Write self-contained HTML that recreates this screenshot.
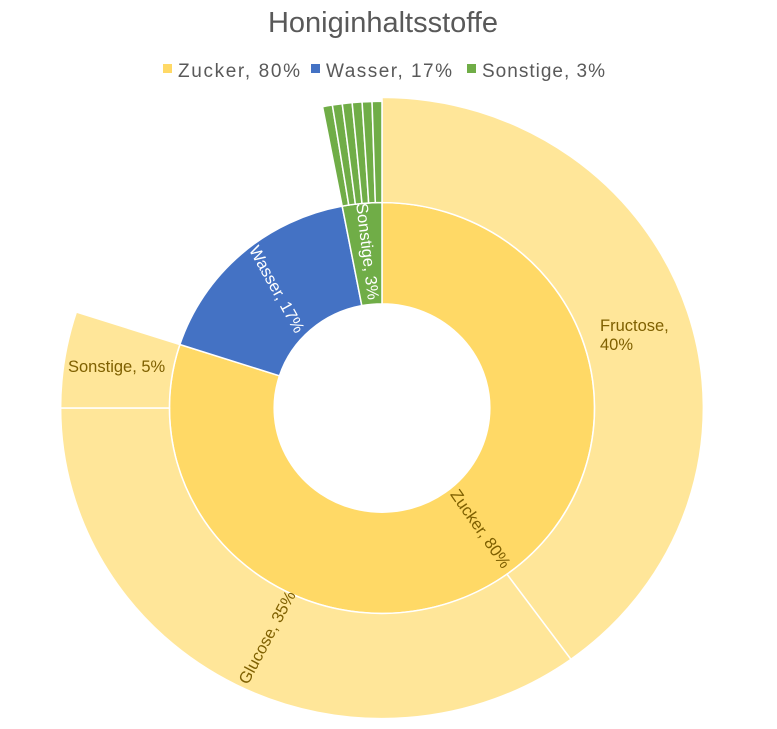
<!DOCTYPE html>
<html><head><meta charset="utf-8"><style>
body{margin:0;background:#fff;width:777px;height:724px;overflow:hidden;font-family:"Liberation Sans",sans-serif}
</style></head><body>
<svg id="s" width="777" height="724" xmlns="http://www.w3.org/2000/svg">
<text x="383" y="32" text-anchor="middle" font-size="29" fill="#595959" font-family="Liberation Sans, sans-serif">Honiginhaltsstoffe</text>
<g font-size="19" fill="#595959" font-family="Liberation Sans, sans-serif">
<rect x="163" y="64" width="9" height="9" fill="#FFD966"/><text x="178" y="77" textLength="122">Zucker, 80%</text>
<rect x="311" y="64" width="9" height="9" fill="#4472C4"/><text x="326" y="77" textLength="126">Wasser, 17%</text>
<rect x="467" y="64" width="9" height="9" fill="#70AD47"/><text x="482" y="77" textLength="123">Sonstige, 3%</text>
</g>
<g id="arcs" transform="translate(382,408) scale(1.017,0.983) translate(-382,-408)"></g>
<g font-family="Liberation Sans, sans-serif" font-size="16.5">
<text x="600" y="331" fill="#7F6000">Fructose,</text>
<text x="600" y="350" fill="#7F6000">40%</text>
<text x="68" y="372" fill="#7F6000">Sonstige, 5%</text>
<text transform="translate(272,640) rotate(-62)" text-anchor="middle" fill="#7F6000">Glucose, 35%</text>
<text transform="translate(476,532) rotate(55)" text-anchor="middle" fill="#7F6000">Zucker, 80%</text>
<text transform="translate(272,292) rotate(61)" text-anchor="middle" fill="#fff">Wasser, 17%</text>
<text transform="translate(362,252) rotate(83)" text-anchor="middle" fill="#fff">Sonstige, 3%</text>
</g>
</svg>
<script>
var cx=382,cy=408;
function pt(r,a){a=a*Math.PI/180;return [cx+r*Math.sin(a),cy-r*Math.cos(a)];}
function arc(r0,r1,a0,a1,fill){
 var p1=pt(r1,a0),p2=pt(r1,a1),p3=pt(r0,a1),p4=pt(r0,a0),lg=(a1-a0)>180?1:0;
 var d="M"+p1+"A"+r1+","+r1+" 0 "+lg+" 1 "+p2+"L"+p3+"A"+r0+","+r0+" 0 "+lg+" 0 "+p4+"Z";
 return '<path d="'+d+'" fill="'+fill+'" stroke="#fff" stroke-width="1.5"/>';
}
var h="";
var R0=106,R1=209,R2=316;
h+=arc(R0,R1,0,288,"#FFD966");
h+=arc(R0,R1,288,349.2,"#4472C4");
h+=arc(R0,R1,349.2,360,"#70AD47");
h+=arc(R1,R2,0,144,"#FFE699");
h+=arc(R1,R2,144,270,"#FFE699");
h+=arc(R1,R2,270,288,"#FFE699");
for(var i=0;i<6;i++){var a=349.2+i*1.8;h+=arc(R1,R2-4,a,a+1.8,"#70AD47");}
document.getElementById("arcs").innerHTML=h;
</script>
</body></html>
